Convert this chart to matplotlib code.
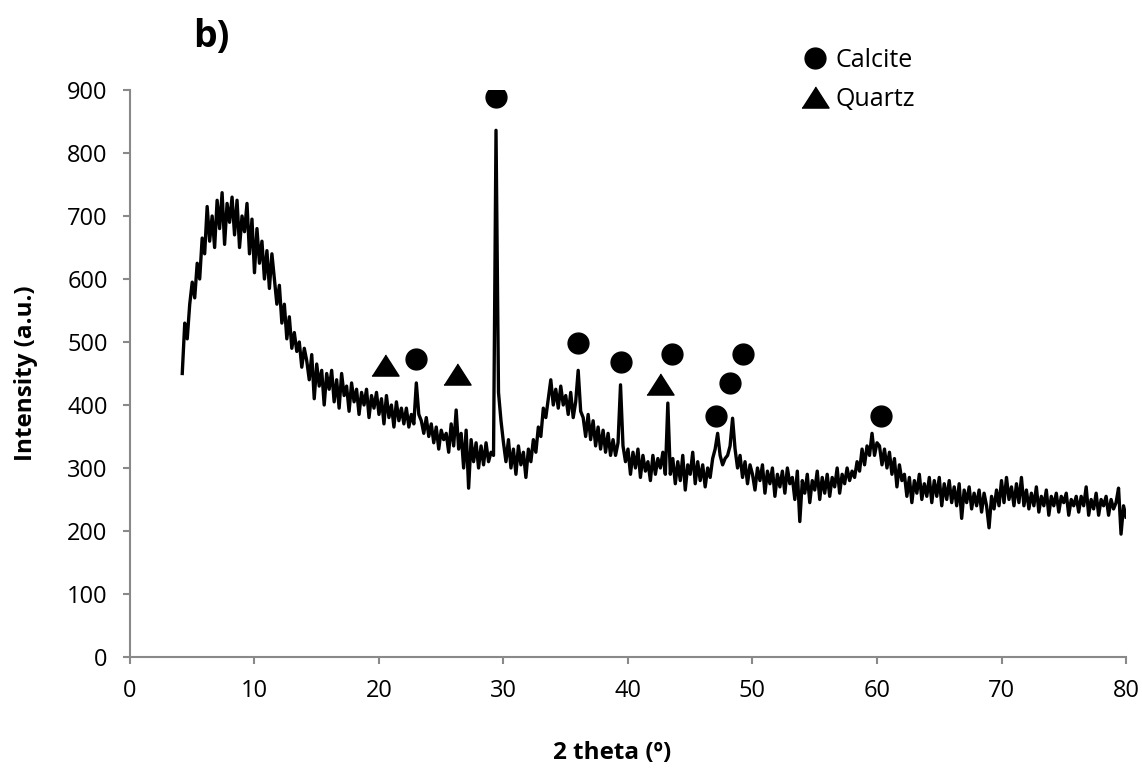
import matplotlib.pyplot as plt
import matplotlib.lines as mlines
import numpy as np

plt.rcParams['font.family'] = ['Open Sans', 'DejaVu Sans']

# scan: 4.2 to 80.0 deg, step 0.2
theta_start = 4.2
theta_step = 0.2
intensity = [
    450, 530, 505, 560, 595, 570, 625, 600, 665, 640,   # 4.2 - 6.0
    715, 660, 700, 650, 725, 680, 737, 655, 720, 690,   # 6.2 - 8.0
    730, 670, 725, 650, 700, 675, 720, 640, 695, 610,   # 8.2 - 10.0
    680, 625, 660, 600, 645, 585, 640, 600, 560, 590,   # 10.2 - 12.0
    530, 560, 505, 540, 490, 515, 485, 500, 460, 490,   # 12.2 - 14.0
    470, 440, 480, 410, 465, 430, 455, 400, 450, 425,   # 14.2 - 16.0
    455, 405, 440, 395, 450, 415, 430, 390, 435, 405,   # 16.2 - 18.0
    425, 385, 420, 400, 425, 380, 415, 395, 420, 385,   # 18.2 - 20.0
    410, 370, 415, 380, 400, 365, 405, 375, 395, 370,   # 20.2 - 22.0
    395, 365, 385, 370, 435, 385, 375, 355, 380, 350,   # 22.2 - 24.0
    370, 340, 365, 330, 360, 345, 355, 325, 370, 335,   # 24.2 - 26.0
    392, 330, 355, 300, 360, 268, 345, 310, 340, 300,   # 26.2 - 28.0
    335, 305, 340, 310, 325, 320, 836, 420, 375, 340,   # 28.2 - 30.0
    310, 345, 300, 330, 290, 335, 305, 325, 285, 330,   # 30.2 - 32.0
    310, 345, 325, 365, 350, 395, 380, 410, 440, 400,   # 32.2 - 34.0
    425, 395, 430, 400, 415, 385, 420, 380, 405, 455,   # 34.2 - 36.0
    390, 380, 350, 385, 345, 375, 335, 365, 330, 360,   # 36.2 - 38.0
    325, 355, 320, 345, 320, 340, 432, 335, 310, 330,   # 38.2 - 40.0
    290, 325, 300, 330, 285, 320, 295, 310, 280, 320,   # 40.2 - 42.0
    290, 315, 300, 325, 290, 403, 290, 315, 275, 310,   # 42.2 - 44.0
    280, 320, 265, 305, 290, 325, 275, 310, 280, 305,   # 44.2 - 46.0
    270, 300, 285, 315, 330, 355, 320, 305, 315, 320,   # 46.2 - 48.0
    335, 379, 330, 300, 320, 285, 310, 275, 305, 290,   # 48.2 - 50.0
    265, 300, 280, 305, 260, 295, 275, 300, 255, 290,   # 50.2 - 52.0
    270, 295, 260, 300, 275, 285, 250, 295, 215, 280,   # 52.2 - 54.0
    260, 290, 245, 280, 265, 295, 250, 285, 260, 290,   # 54.2 - 56.0
    255, 285, 270, 300, 260, 290, 275, 300, 280, 295,   # 56.2 - 58.0
    285, 310, 295, 330, 305, 335, 320, 355, 320, 340,   # 58.2 - 60.0
    335, 305, 330, 300, 325, 290, 315, 270, 305, 280,   # 60.2 - 62.0
    290, 255, 285, 245, 280, 260, 290, 250, 275, 255,   # 62.2 - 64.0
    285, 245, 280, 255, 285, 240, 275, 250, 280, 245,   # 64.2 - 66.0
    270, 240, 275, 220, 265, 245, 270, 235, 260, 240,   # 66.2 - 68.0
    265, 230, 260, 240, 205, 255, 235, 265, 240, 280,   # 68.2 - 70.0
    245, 285, 250, 270, 240, 275, 245, 285, 240, 265,   # 70.2 - 72.0
    235, 260, 240, 270, 230, 255, 240, 265, 225, 255,   # 72.2 - 74.0
    240, 260, 230, 255, 245, 260, 225, 250, 240, 255,   # 74.2 - 76.0
    230, 255, 240, 270, 225, 250, 235, 260, 225, 250,   # 76.2 - 78.0
    240, 255, 225, 250, 235, 245, 268, 195, 240, 222,   # 78.2 - 80.0
]
two_theta = np.round(theta_start + theta_step * np.arange(len(intensity)), 1)

# phase label positions
calcite_x = [29.4, 23.0, 36.0, 39.4, 43.5, 49.2, 48.2, 47.1, 60.3]
calcite_y = [889, 473, 498, 468, 481, 481, 435, 383, 383]
quartz_x = [20.5, 26.3, 42.6]
quartz_y = [463, 449, 433]

axis_grey = '#898989'
tri = [(-1, -0.78), (1, -0.78), (0, 0.78)]

fig = plt.figure(figsize=(11.42, 7.72), dpi=100)
ax = fig.add_axes([0.1138, 0.149, 0.8722, 0.7344])

ax.plot(two_theta, intensity, color='black', lw=2.4, zorder=2)
ax.plot(calcite_x, calcite_y, 'o', color='black', ms=15, ls='none', zorder=3)
ax.plot(quartz_x, quartz_y, marker=tri, color='black', ms=19.5, ls='none', zorder=3)

ax.set_xlim(0, 80)
ax.set_ylim(0, 900)
ax.set_xticks(np.arange(0, 81, 10))
ax.set_yticks(np.arange(0, 901, 100))

for s in ['top', 'right']:
    ax.spines[s].set_visible(False)
for s in ['left', 'bottom']:
    ax.spines[s].set_color(axis_grey)
    ax.spines[s].set_linewidth(1.5)
ax.tick_params(direction='out', length=5, width=1.5, color=axis_grey,
               labelsize=17, labelcolor='black', pad=11)

ax.set_xlabel('2 theta (º)', fontsize=17.5, fontweight='bold', labelpad=27)
ax.xaxis.label.set_x(0.484)
ax.set_ylabel('Intensity (a.u.)', fontsize=17.5, fontweight='bold', labelpad=21)

fig.text(0.169, 0.952, 'b)', fontsize=27, fontweight='bold', ha='left', va='center')

h1 = mlines.Line2D([], [], color='black', marker='o', ms=15, ls='none', label='Calcite')
h2 = mlines.Line2D([], [], color='black', marker=tri, ms=19.5, ls='none', label='Quartz')
fig.legend(handles=[h1, h2], loc='upper left', bbox_to_anchor=(0.692, 0.951),
           frameon=False, fontsize=18, handletextpad=0.2, labelspacing=0.55,
           handlelength=1.2, borderaxespad=0)

fig.savefig('out.png', dpi=100)
